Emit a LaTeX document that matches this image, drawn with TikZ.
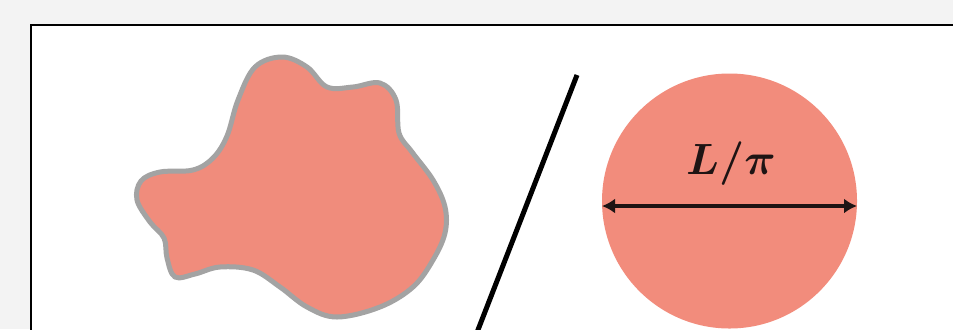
\documentclass[tikz,border=0pt]{standalone}
\usepackage{amsmath,amssymb}
\usetikzlibrary{arrows.meta}
\definecolor{bggray}{HTML}{F3F3F3}
\definecolor{blobfill}{HTML}{F08C7C}
\definecolor{blobedge}{HTML}{A3A3A3}
\definecolor{discfill}{HTML}{F28C7C}
\definecolor{inkdark}{HTML}{1E1414}
\tikzset{
  panel/.style={draw=black, fill=white, line width=0.55mm},
  blob/.style={draw=blobedge, fill=blobfill, line width=1.0mm, line join=round},
  slash/.style={draw=black, line width=1.0mm},
  disc/.style={circle, fill=discfill, draw=none, minimum size=51mm, inner sep=0pt},
  diam/.style={{Latex[length=2.6mm,width=3mm]}-{Latex[length=2.6mm,width=3mm]}, draw=inkdark, line width=0.8mm},
  lbl/.style={font=\fontsize{28}{32}\selectfont\boldmath, text=inkdark, inner sep=0pt, anchor=base},
}
\begin{document}
\begin{tikzpicture}[x=0.2mm,y=-0.2mm]
  \useasboundingbox (0,0) rectangle (953,329);
  \clip (0,0) rectangle (953,329);
  \fill[bggray] (0,0) rectangle (953,329);
  \draw[panel] (31,25) rectangle (975,350);
  \draw[blob] plot[smooth cycle, tension=0.6] coordinates {
    (282,57) (307,67) (327,87) (353,87) (380,83) (396,100) (399,133)
    (412,152) (433,180) (445,207) (445,233) (433,260) (413,287)
    (380,307) (337,317) (307,307) (280,287) (253,270) (220,267)
    (195,274) (175,277) (167,258) (164,238) (150,222) (137,200)
    (141,181) (160,172) (193,170) (213,158) (227,136) (238,100) (255,67)};
  \coordinate (stop) at (577,75);
  \coordinate (sbot) at (476,335);
  \draw[slash] (stop) -- (sbot);
  \node[disc] (disc) at (729.5,201) {};
  \coordinate (dl) at (602,206);
  \coordinate (dr) at (857,206);
  \draw[diam] (dl) -- (dr);
  \node[lbl] (len) at (731,174) {$L/\pi$};
\end{tikzpicture}
\end{document}
